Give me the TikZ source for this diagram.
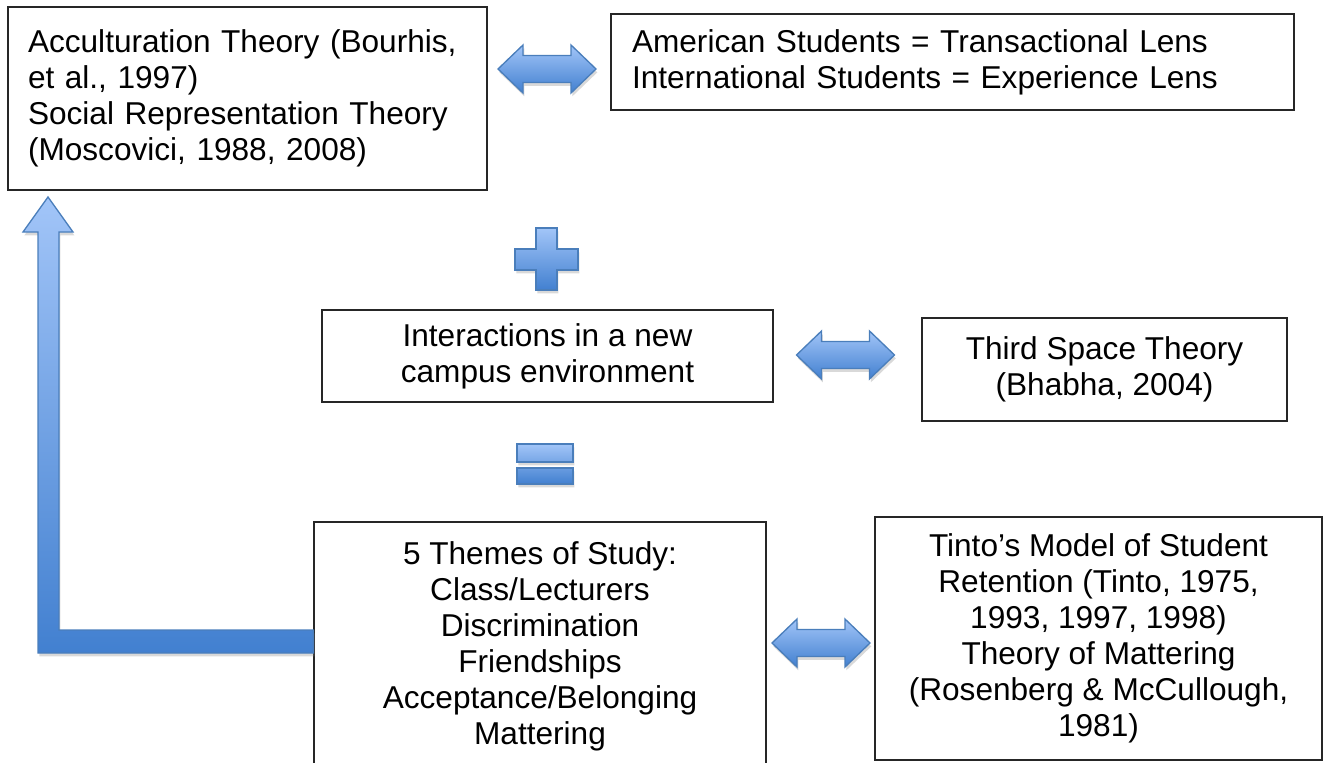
\documentclass[tikz,border=0pt]{standalone}
\usepackage{fontspec}
\setmainfont{Liberation Sans}
\usepackage{xcolor}
\usetikzlibrary{shadows}

\definecolor{arrowtop}{HTML}{A2C5F8}
\definecolor{arrowbot}{HTML}{4280D0}
\definecolor{arrowline}{HTML}{4A7EBB}

\begin{document}
\begin{tikzpicture}[x=0.75pt, y=-0.75pt,
        every node/.style={font=\fontsize{23.7}{27}\selectfont},
        box/.style={draw=black!85, line width=1pt, inner sep=0pt, align=center},
        blockfill/.style={top color=arrowtop, bottom color=arrowbot, draw=arrowline,
            line width=1pt, line join=miter,
            drop shadow={shadow xshift=1pt, shadow yshift=-2.5pt, opacity=.3}},
        pics/dblarrow/.style={code={
            \path[blockfill] (-49,0) -- (-24,-24) -- (-24,-13.5) -- (24,-13.5) -- (24,-24)
                -- (49,0) -- (24,24) -- (24,13.5) -- (-24,13.5) -- (-24,24) -- cycle;}}]
    \clip (0,0) rectangle (1323,763);

    % theory boxes
    \node[box, align=left, text width=329.25pt, inner xsep=15pt, minimum height=137.25pt]
        (accult) at (247.5,98.5) {Acculturation Theory (Bourhis, et al., 1997)\\
        Social Representation Theory (Moscovici, 1988, 2008)};
    \node[box, align=left, text width=480.75pt, inner xsep=15.75pt, minimum height=72pt]
        (lens) at (952.5,62) {American Students = Transactional Lens\\
        International Students = Experience Lens};
    \node[box, minimum width=338.25pt, minimum height=69pt]
        (interact) at (547.5,356) {Interactions in a new\\ campus environment};
    \node[box, minimum width=273.75pt, minimum height=77.25pt]
        (thirdspace) at (1104.5,369.5) {Third Space Theory\\ (Bhabha, 2004)};
    \node[box, minimum width=339pt, minimum height=186pt]
        (themes) at (540,646) {5 Themes of Study:\\ Class/Lecturers\\ Discrimination\\
        Friendships\\ Acceptance/Belonging\\ Mattering};
    \node[box, minimum width=335.25pt, minimum height=182.25pt]
        (tinto) at (1098.5,638.5) {Tinto’s Model of Student\\ Retention (Tinto, 1975,\\
        1993, 1997, 1998)\\ Theory of Mattering\\ (Rosenberg \& McCullough,\\ 1981)};

    % two-way arrows
    \pic at (547,69) {dblarrow};
    \pic at (845.5,355) {dblarrow};
    \pic at (821,643) {dblarrow};

    % plus and equals
    \path[blockfill] (536,228) -- (557,228) -- (557,249) -- (578,249) -- (578,270)
        -- (557,270) -- (557,290) -- (536,290) -- (536,270) -- (515,270) -- (515,249)
        -- (536,249) -- cycle;
    \path[blockfill] (517,444) rectangle (573,462) (517,468) rectangle (573,484);

    % feedback arrow from themes back to theories
    \path[blockfill] (48,197) -- (73,232) -- (59,232) -- (59,630) -- (themes.west |- 0,630)
        -- (themes.west |- 0,653) -- (38,653) -- (38,232) -- (23,232) -- cycle;
\end{tikzpicture}
\end{document}
